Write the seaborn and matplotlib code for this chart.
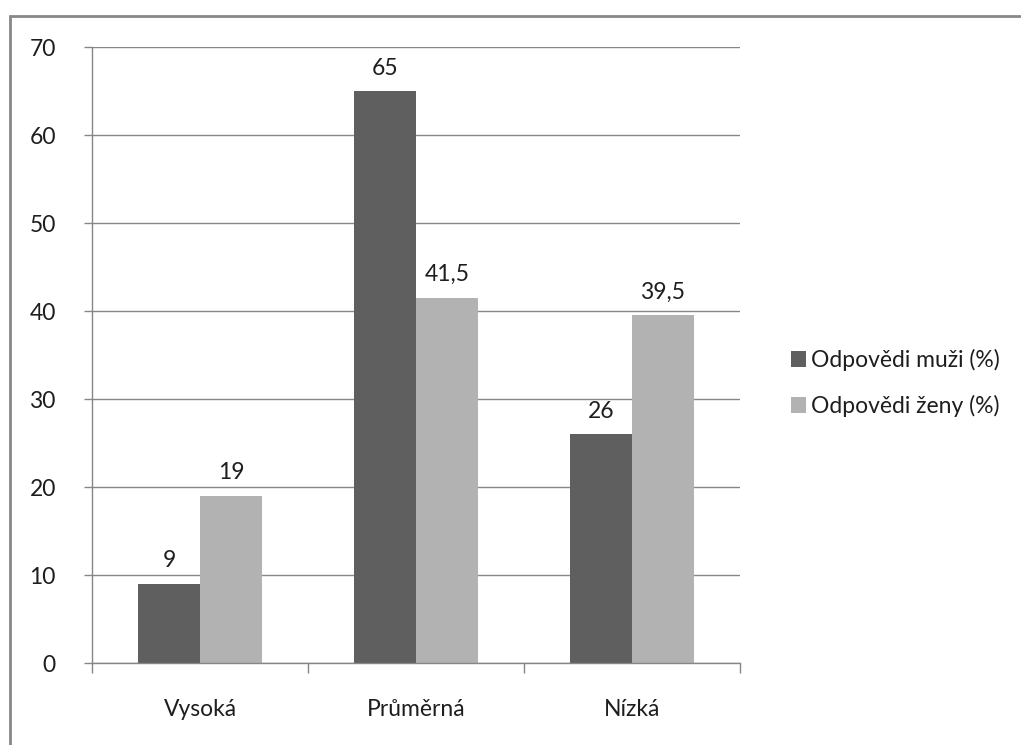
import pandas as pd
import numpy as np
import matplotlib.pyplot as plt
import seaborn as sns
from matplotlib.patches import Rectangle, Patch

# Data
categories = ['Vysoká', 'Průměrná', 'Nízká']
series_names = ['Odpovědi muži (%)', 'Odpovědi ženy (%)']
men = [9, 65, 26]
women = [19, 41.5, 39.5]

df = pd.DataFrame({
    'Kategorie': categories * 2,
    'Skupina': [series_names[0]] * 3 + [series_names[1]] * 3,
    'Hodnota': men + women,
})

sns.set_style('white')
plt.rcParams['font.family'] = ['Lato', 'DejaVu Sans']

colors = ['#5f5f5f', '#b2b2b2']
grid_col = '#868686'
txt_col = '#1e1e1e'
fs = 16.5

fig = plt.figure(figsize=(10.21, 7.45), dpi=100)
ax = fig.add_axes([92 / 1021, 82 / 745, 648 / 1021, 616 / 745])

sns.barplot(data=df, x='Kategorie', y='Hodnota', hue='Skupina',
            palette=colors, width=0.574, gap=0, saturation=1,
            edgecolor='none', linewidth=0, ax=ax, legend=False)

# data labels
for cont in ax.containers:
    labels = [f'{v:g}'.replace('.', ',') for v in cont.datavalues]
    ax.bar_label(cont, labels=labels, padding=9, fontsize=fs, color=txt_col)

ax.set_ylim(0, 70)
ax.set_xlim(-0.5, 2.5)
ax.set_yticks(np.arange(0, 71, 10))
ax.yaxis.grid(True, color=grid_col, linewidth=1)
ax.set_axisbelow(True)
ax.set_xlabel('')
ax.set_ylabel('')

for s in ['top', 'right']:
    ax.spines[s].set_visible(False)
for s in ['left', 'bottom']:
    ax.spines[s].set_color(grid_col)
    ax.spines[s].set_linewidth(1)

# x ticks on category boundaries, labels centered
ax.set_xticks([-0.5, 0.5, 1.5, 2.5], minor=False)
ax.set_xticklabels([])
ax.set_xticks([0, 1, 2], minor=True)
ax.set_xticklabels(categories, minor=True)
ax.tick_params(axis='x', which='major', bottom=True, direction='out', length=7,
               color=grid_col, width=1)
ax.tick_params(axis='x', which='minor', bottom=True, length=0, pad=26,
               labelsize=fs, labelcolor=txt_col)
ax.tick_params(axis='y', left=True, direction='out', length=6, color=grid_col, width=1,
               pad=20, labelsize=fs, labelcolor=txt_col)

# legend
handles = [Patch(facecolor=c, edgecolor='none') for c in colors]
fig.legend(handles, series_names, loc='center left',
           bbox_to_anchor=(770 / 1021, 1 - 383 / 745), frameon=False,
           fontsize=fs, handlelength=0.65, handleheight=0.65,
           handletextpad=0.25, labelspacing=1.05, labelcolor=txt_col)

# outer chart border
fig.patches.append(Rectangle((10 / 1021, -0.1), 1.2, 1 - 16 / 745 + 0.1,
                             transform=fig.transFigure, fill=False,
                             edgecolor='#888888', linewidth=2))

plt.savefig('out.png', dpi=100)
